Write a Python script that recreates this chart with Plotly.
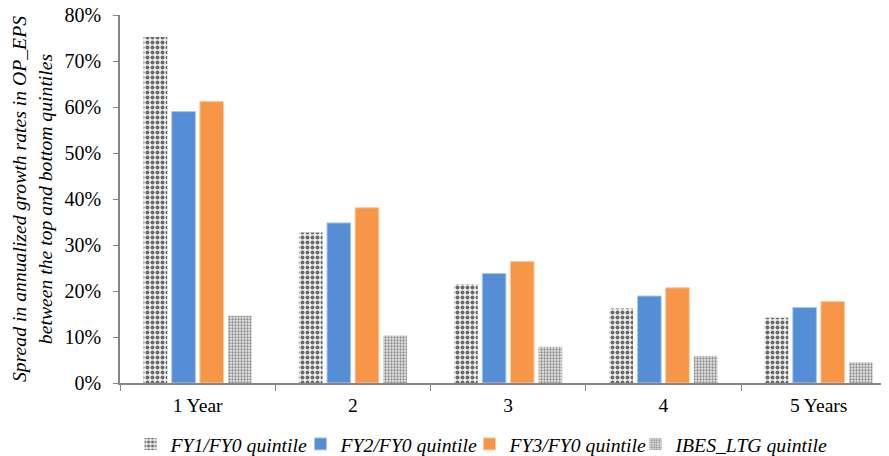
import plotly.graph_objects as go

categories = ["1 Year", "2", "3", "4", "5 Years"]
fy1 = [75.2, 32.7, 21.5, 16.2, 14.2]
fy2 = [59.0, 34.8, 23.8, 18.9, 16.4]
fy3 = [61.2, 38.1, 26.4, 20.7, 17.7]
ibes = [14.6, 10.3, 7.9, 5.9, 4.5]
series_names = ["FY1/FY0 quintile", "FY2/FY0 quintile", "FY3/FY0 quintile", "IBES_LTG quintile"]
y_ticks = [0, 10, 20, 30, 40, 50, 60, 70, 80]

font_family = "Liberation Serif"
legend_x = [0.0137, 0.2348, 0.4545, 0.6704]

fig = go.Figure()
fig.add_trace(go.Bar(
    x=categories, y=fy1, name=series_names[0], legend="legend",
    marker=dict(color="white", line=dict(width=0),
                pattern=dict(shape=".", fgcolor="#6a6a6a", bgcolor="#f2f2f2", size=5, solidity=0.5, fillmode="replace")),
))
fig.add_trace(go.Bar(
    x=categories, y=fy2, name=series_names[1], legend="legend2",
    marker=dict(color="#558ED5", line=dict(width=1, color="#a9c6ee")),
))
fig.add_trace(go.Bar(
    x=categories, y=fy3, name=series_names[2], legend="legend3",
    marker=dict(color="#F79646", line=dict(width=1, color="#fbc9a2")),
))
fig.add_trace(go.Bar(
    x=categories, y=ibes, name=series_names[3], legend="legend4",
    marker=dict(color="white", line=dict(width=0),
                pattern=dict(shape=".", fgcolor="#8c8c8c", bgcolor="#e6e6e6", size=3, solidity=0.45, fillmode="replace")),
))

def leg(x):
    return dict(orientation="h", x=x, xanchor="left", y=-0.166, yanchor="middle",
                font=dict(family=font_family, size=19.7, style="italic"),
                bgcolor="rgba(0,0,0,0)")

fig.update_layout(
    width=881, height=448,
    margin=dict(l=112, r=0, t=7, b=73, autoexpand=False),
    paper_bgcolor="white", plot_bgcolor="white",
    barmode="group", bargap=0.275, bargroupgap=0.16,
    font=dict(family=font_family, color="#000000", size=20),
    showlegend=True,
    legend=leg(legend_x[0]),
    legend2=leg(legend_x[1]),
    legend3=leg(legend_x[2]),
    legend4=leg(legend_x[3]),
)
fig.update_xaxes(
    range=[-0.5, 4.453], showline=True, linecolor="#868686", linewidth=1.5,
    ticks="outside", tickson="boundaries", ticklen=6, tickcolor="#868686",
    tickfont=dict(family=font_family, size=19.5), showgrid=False, zeroline=False,
    automargin=False, ticklabelstandoff=4,
)
fig.update_yaxes(
    range=[0, 80], tickvals=y_ticks, ticktext=[f"{v}%" for v in y_ticks],
    showline=True, linecolor="#868686", linewidth=1.5,
    ticks="outside", ticklen=5, tickcolor="#868686",
    tickfont=dict(family=font_family, size=20), showgrid=False, zeroline=False,
    automargin=False, ticklabelstandoff=8, ticklabeloverflow="allow",
    title=dict(text="Spread in annualized growth rates in OP_EPS<br>between the top and bottom quintiles",
               font=dict(family=font_family, size=19.7, style="italic"), standoff=12),
)

fig.write_html("out.html")
